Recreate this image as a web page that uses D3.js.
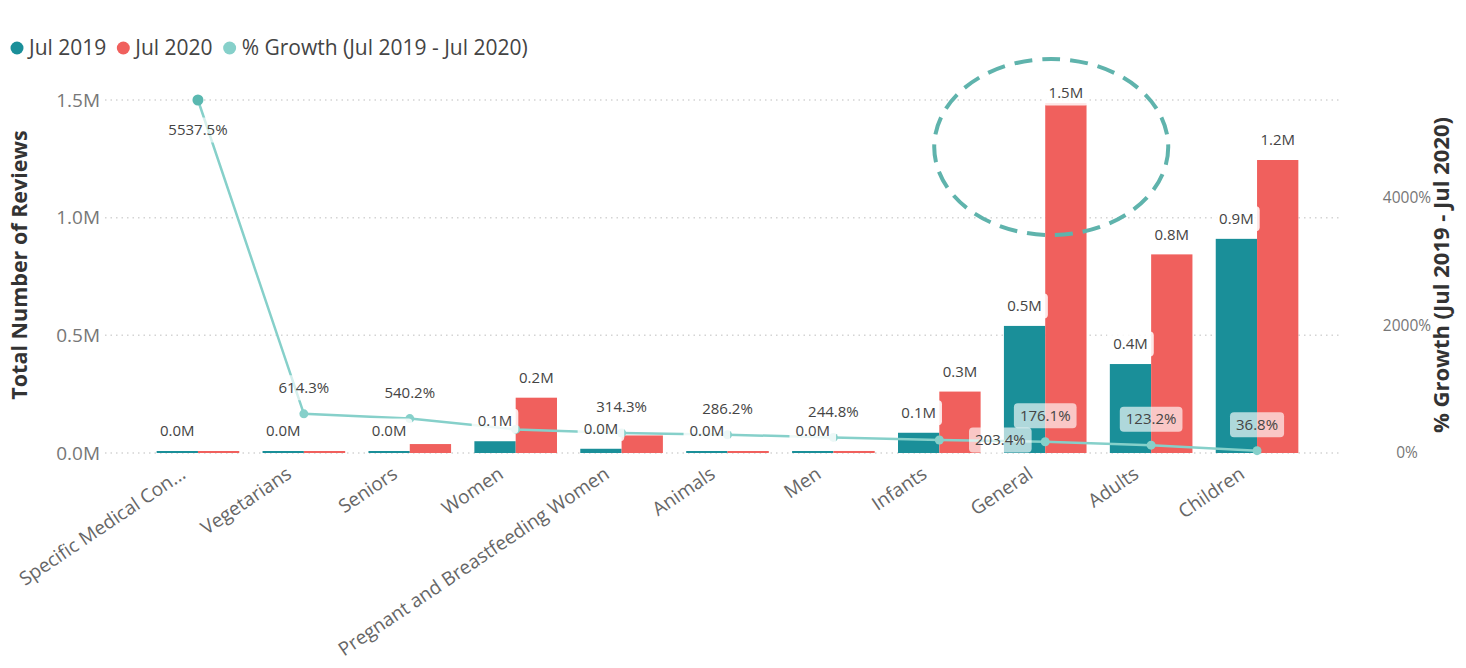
<!DOCTYPE html>
<html>
<head>
<meta charset="utf-8">
<script src="https://cdn.jsdelivr.net/npm/d3@7"></script>
<style>
  html, body { margin: 0; padding: 0; background: #fff; }
  svg { display: block; font-family: "Segoe UI", "Open Sans", sans-serif; }
</style>
</head>
<body>
<svg id="chart" width="1466" height="668"></svg>
<script>
/* ── Data ─────────────────────────────────────────────── */
const categories = ['Specific Medical Con...', 'Vegetarians', 'Seniors', 'Women',
  'Pregnant and Breastfeeding Women', 'Animals', 'Men', 'Infants', 'General', 'Adults', 'Children'];
const jul2019 = [120, 500, 6000, 50000, 18000, 1200, 2500, 86000, 540000, 378000, 910000];
const jul2020 = [6800, 3600, 38000, 235000, 74600, 4600, 8600, 261000, 1487000, 844000, 1245000];
const growth = [5537.5, 614.3, 540.2, 370.0, 314.3, 286.2, 244.8, 203.4, 176.1, 123.2, 36.8];
const leftTicks = [0, 500000, 1000000, 1500000];
const rightTicks = [0, 2000, 4000];
const seriesNames = ['Jul 2019', 'Jul 2020', '% Growth (Jul 2019 - Jul 2020)'];

/* ── Style ────────────────────────────────────────────── */
const C = { teal: '#1a8f99', red: '#f0605d', growth: '#86d0ca', axis: '#777', grid: '#d4d4d4' };
const hiddenGrowthLabels = new Set(['Women']);

const svg = d3.select('#chart');
const plotTop = 100, plotBottom = 453;

/* ── Scales ───────────────────────────────────────────── */
const x = d3.scaleBand().domain(categories).range([145, 1310]).paddingInner(0.22).paddingOuter(0.11);
const xs = d3.scaleBand().domain([0, 1]).range([0, x.bandwidth()]);
const y = d3.scaleLinear().domain([0, 1500000]).range([plotBottom, plotTop]);
const y2 = d3.scaleLinear().domain([0, 5537.5]).range([plotBottom, plotTop]);
const cx = c => x(c) + x.bandwidth() / 2;

/* ── Gridlines ────────────────────────────────────────── */
svg.append('g').selectAll('line').data(leftTicks).join('line')
  .attr('x1', 105).attr('x2', 1340)
  .attr('y1', d => y(d)).attr('y2', d => y(d))
  .attr('stroke', C.grid).attr('stroke-width', 1.5).attr('stroke-dasharray', '1.5,4');

/* ── Axes labels ──────────────────────────────────────── */
svg.append('g').selectAll('text').data(leftTicks).join('text')
  .attr('x', 100).attr('y', d => y(d)).attr('dy', '0.35em')
  .attr('text-anchor', 'end').attr('font-size', 19).attr('fill', C.axis)
  .text(d => d3.format('.1f')(d / 1e6) + 'M');

svg.append('g').selectAll('text').data(rightTicks).join('text')
  .attr('x', 1407).attr('y', d => y2(d)).attr('dy', '0.35em')
  .attr('text-anchor', 'middle').attr('font-size', 15.5).attr('fill', C.axis)
  .text(d => d + '%');

svg.append('text')
  .attr('transform', 'translate(27,265) rotate(-90)')
  .attr('text-anchor', 'middle').attr('font-size', 21.5).attr('font-weight', 'bold').attr('fill', '#333')
  .text('Total Number of Reviews');

svg.append('text')
  .attr('transform', 'translate(1449,275) rotate(-90)')
  .attr('text-anchor', 'middle').attr('font-size', 22).attr('font-weight', 'bold').attr('fill', '#333')
  .text('% Growth (Jul 2019 - Jul 2020)');

svg.append('g').selectAll('text').data(categories).join('text')
  .attr('transform', d => `translate(${cx(d) - 11},${plotBottom + 24}) rotate(-34)`)
  .attr('text-anchor', 'end').attr('font-size', 19).attr('fill', '#666')
  .text(d => d);

/* ── Bars ─────────────────────────────────────────────── */
const series = [jul2019, jul2020];
const barColors = [C.teal, C.red];
const barH = v => Math.max(2, plotBottom - y(v));
series.forEach((vals, s) => {
  svg.append('g').selectAll('rect').data(categories).join('rect')
    .attr('x', d => x(d) + xs(s))
    .attr('width', xs.bandwidth())
    .attr('y', (d, i) => plotBottom - barH(vals[i]))
    .attr('height', (d, i) => barH(vals[i]))
    .attr('fill', barColors[s]);
});

/* ── Growth line ──────────────────────────────────────── */
const line = d3.line().x(d => cx(d)).y((d, i) => y2(growth[i]));
svg.append('path').datum(categories)
  .attr('d', line).attr('fill', 'none')
  .attr('stroke', C.growth).attr('stroke-width', 2.5);

svg.append('g').selectAll('circle').data(categories).join('circle')
  .attr('cx', d => cx(d)).attr('cy', (d, i) => y2(growth[i]))
  .attr('r', (d, i) => i === 0 ? 5.5 : 4.5)
  .attr('fill', (d, i) => i === 0 ? '#5ab8b0' : C.growth);

/* ── Labels with soft backgrounds ─────────────────────── */
const FS = 15;
const measure = svg.append('text').attr('font-size', FS).attr('visibility', 'hidden');
function boxOf(px, py, txt) {
  const w = measure.text(txt).node().getComputedTextLength();
  return { x0: px - w / 2 - 6, x1: px + w / 2 + 6, y0: py - FS * 0.7 - 2, y1: py + FS * 0.7 + 2 };
}
const overlap = (a, b, slack) =>
  Math.min(a.x1, b.x1) - Math.max(a.x0, b.x0) > slack && Math.min(a.y1, b.y1) - Math.max(a.y0, b.y0) > slack;

function label(g, px, py, txt, bgOpacity) {
  const b = boxOf(px, py, txt);
  g.append('rect')
    .attr('x', b.x0).attr('y', b.y0).attr('width', b.x1 - b.x0).attr('height', b.y1 - b.y0)
    .attr('rx', 4).attr('fill', '#fff').attr('fill-opacity', bgOpacity);
  g.append('text').attr('x', px).attr('y', py).attr('dy', '0.35em')
    .attr('text-anchor', 'middle').attr('font-size', FS).attr('fill', '#444').text(txt);
}

const labelLayer = svg.append('g');
const shown = [];
categories.forEach((c, i) => {
  let first = null;
  series.forEach((vals, s) => {
    const px = x(c) + xs(s) + xs.bandwidth() / 2;
    const py = Math.max(plotBottom - barH(vals[i]) - 20, plotTop - 7);
    const txt = d3.format('.1f')(vals[i] / 1e6) + 'M';
    const b = boxOf(px, py, txt);
    if (first && overlap(first, b, 0)) return;   // later label collides: skip it
    first = first || b;
    shown.push(b);
    label(labelLayer, px, py, txt, 0.85);
  });
});

categories.forEach((c, i) => {
  if (hiddenGrowthLabels.has(c)) return;
  const px = cx(c), py = y2(growth[i]);
  const txt = d3.format('.1f')(growth[i]) + '%';
  let lx = px, ly = py - 26;
  if (ly < plotTop + 10) ly = py + 30;
  if (shown.some(b => overlap(b, boxOf(lx, ly, txt), 8))) { lx = px + 61; ly = py; }
  label(labelLayer, lx, ly, txt, 0.65);
});

/* ── Annotation: dashed circle around General ─────────── */
svg.append('ellipse')
  .attr('cx', cx('General') + 6).attr('cy', y(1500000) + 47)
  .attr('rx', 117).attr('ry', 88)
  .attr('fill', 'none').attr('stroke', '#5fb3ac').attr('stroke-width', 4)
  .attr('stroke-dasharray', '18,10');

/* ── Legend ───────────────────────────────────────────── */
const legend = svg.append('g').attr('transform', 'translate(17,48)');
const legendColors = [C.teal, C.red, C.growth];
let lxPos = 0;
seriesNames.forEach((n, i) => {
  legend.append('circle').attr('cx', lxPos).attr('cy', 0).attr('r', 6.5).attr('fill', legendColors[i]);
  const t = legend.append('text').attr('x', lxPos + 12).attr('y', 0).attr('dy', '0.35em')
    .attr('font-size', 21).attr('fill', '#444').text(n);
  lxPos += 12 + t.node().getComputedTextLength() + 17;
});
</script>
</body>
</html>
